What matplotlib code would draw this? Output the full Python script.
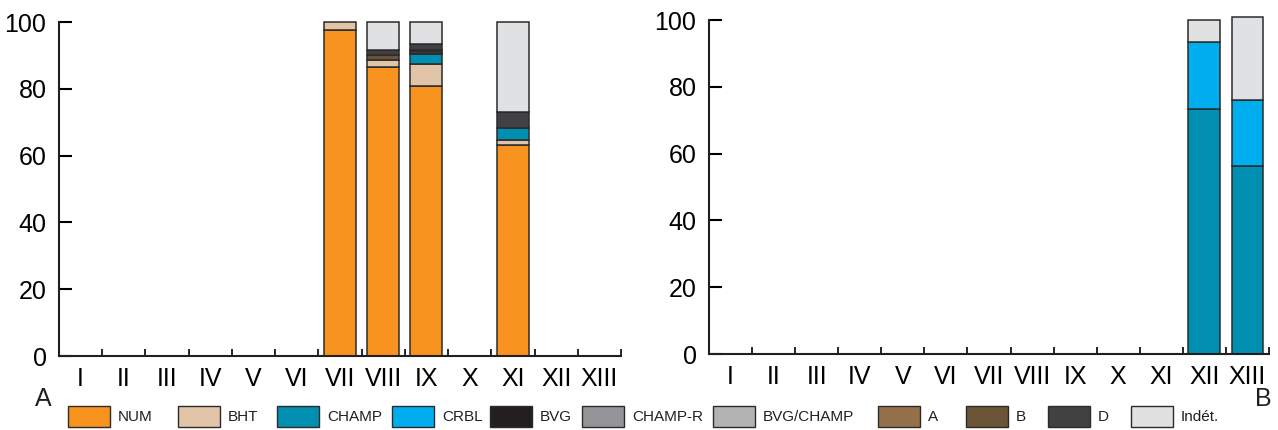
import numpy as np
import matplotlib
matplotlib.use("Agg")
import matplotlib.pyplot as plt
from matplotlib.patches import Rectangle

plt.rcParams['font.family'] = ['Liberation Sans', 'DejaVu Sans']

cats = ['I', 'II', 'III', 'IV', 'V', 'VI', 'VII', 'VIII', 'IX', 'X', 'XI', 'XII', 'XIII']
groups = ['NUM', 'BHT', 'CHAMP', 'CRBL', 'BVG', 'CHAMP-R', 'BVG/CHAMP', 'A', 'B', 'D', 'Indét.']
colors = ['#f7931e', '#e2c4a8', '#008fb0', '#00aeef', '#231f20', '#939598',
          '#b3b3b3', '#94714a', '#6b5536', '#414042', '#e0e1e2']

# panel A (percent)
num_a      = [0, 0, 0, 0, 0, 0, 97.5, 86.6, 80.7, 0, 63.3, 0, 0]
bht_a      = [0, 0, 0, 0, 0, 0, 2.5, 1.9, 6.6, 0, 1.5, 0, 0]
champ_a    = [0, 0, 0, 0, 0, 0, 0, 0, 3.2, 0, 3.4, 0, 0]
crbl_a     = [0] * 13
bvg_a      = [0, 0, 0, 0, 0, 0, 0, 0, 0.3, 0, 0, 0, 0]
champr_a   = [0] * 13
bvgchamp_a = [0] * 13
a_a        = [0, 0, 0, 0, 0, 0, 0, 0, 0.5, 0, 0, 0, 0]
b_a        = [0, 0, 0, 0, 0, 0, 0, 1.5, 0.4, 0, 0, 0, 0]
d_a        = [0, 0, 0, 0, 0, 0, 0, 1.6, 1.6, 0, 4.9, 0, 0]
indet_a    = [0, 0, 0, 0, 0, 0, 0, 8.4, 6.7, 0, 26.9, 0, 0]

# panel B (percent)
num_b      = [0] * 13
bht_b      = [0] * 13
champ_b    = [0, 0, 0, 0, 0, 0, 0, 0, 0, 0, 0, 73.5, 56.2]
crbl_b     = [0, 0, 0, 0, 0, 0, 0, 0, 0, 0, 0, 20.0, 19.9]
bvg_b      = [0] * 13
champr_b   = [0] * 13
bvgchamp_b = [0] * 13
a_b        = [0] * 13
b_b        = [0] * 13
d_b        = [0] * 13
indet_b    = [0, 0, 0, 0, 0, 0, 0, 0, 0, 0, 0, 6.5, 24.7]

series_a = [num_a, bht_a, champ_a, crbl_a, bvg_a, champr_a, bvgchamp_a, a_a, b_a, d_a, indet_a]
series_b = [num_b, bht_b, champ_b, crbl_b, bvg_b, champr_b, bvgchamp_b, a_b, b_b, d_b, indet_b]

# left edge (px) of each legend swatch
legend_x = [68, 178, 277, 392, 490, 582, 713, 878, 966, 1048, 1131]

fig = plt.figure(figsize=(12.78, 4.30), dpi=100)
W, H = 1278, 430


def panel(rect, series):
    ax = fig.add_axes(rect)
    x = np.arange(len(cats)) + 0.5
    bottom = np.zeros(len(cats))
    for vals, c in zip(series, colors):
        vals = np.array(vals, dtype=float)
        mask = vals > 0
        ax.bar(x[mask], vals[mask], width=0.74, bottom=bottom[mask], color=c,
               edgecolor='#2b2b2b', linewidth=1.1, zorder=2)
        bottom += vals
    ax.set_xlim(0, len(cats))
    ax.set_ylim(0, 101.5)
    ax.set_xticks(x)
    ax.set_xticklabels(cats)
    ax.set_xticks(np.arange(1, len(cats) + 1), minor=True)
    ax.tick_params(axis='x', which='major', length=0, pad=8, labelsize=18)
    ax.tick_params(axis='x', which='minor', direction='in', length=5, width=1.2)
    ax.set_yticks([0, 20, 40, 60, 80, 100])
    ax.tick_params(axis='y', direction='in', length=9.5, width=1.5, pad=9, labelsize=18)
    for s in ['top', 'right']:
        ax.spines[s].set_visible(False)
    ax.spines['left'].set_bounds(0, 100)
    for s in ['left', 'bottom']:
        ax.spines[s].set_linewidth(1.5)
        ax.spines[s].set_color('#231f20')
    return ax


def rect(x0, x1, y0, y100):
    top = y0 - (y0 - y100) * 1.015
    return [x0 / W, 1 - y0 / H, (x1 - x0) / W, (y0 - top) / H]


ax1 = panel(rect(59, 621, 356, 22), series_a)
ax2 = panel(rect(709, 1269, 354, 20), series_b)

fig.text(35 / W, 1 - 387 / H, 'A', fontsize=18, color='#231f20', va='top')
fig.text(1255 / W, 1 - 387 / H, 'B', fontsize=18, color='#231f20', va='top')

# legend row along the bottom
for lx, name, c in zip(legend_x, groups, colors):
    fig.patches.append(Rectangle((lx / W, 1 - 427 / H), 42 / W, 21 / H,
                                 transform=fig.transFigure, facecolor=c,
                                 edgecolor='#2b2b2b', linewidth=1.0))
    fig.text((lx + 50) / W, 1 - 417 / H, name, fontsize=11, va='center',
             color='#231f20')

fig.savefig('out.png', dpi=100)
